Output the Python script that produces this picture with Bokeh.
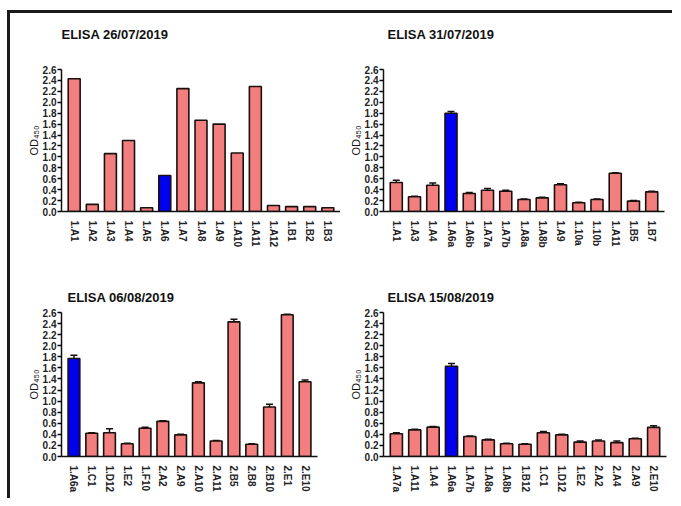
from bokeh.plotting import figure
from bokeh.layouts import column, row
from bokeh.models import (ColumnDataSource, FactorRange, Range1d, FixedTicker, Whisker,
                          TeeHead, PrintfTickFormatter, Title)
from bokeh.embed import file_html
from bokeh.resources import INLINE

titles = ["ELISA 26/07/2019", "ELISA 31/07/2019", "ELISA 06/08/2019", "ELISA 15/08/2019"]

cats1 = ["1.A1", "1.A2", "1.A3", "1.A4", "1.A5", "1.A6", "1.A7", "1.A8", "1.A9", "1.A10", "1.A11", "1.A12", "1.B1", "1.B2", "1.B3"]
vals1 = [2.43, 0.13, 1.06, 1.30, 0.07, 0.66, 2.25, 1.67, 1.60, 1.07, 2.29, 0.11, 0.09, 0.09, 0.07]
errs1 = [0.0] * 15

cats2 = ["1.A1", "1.A3", "1.A4", "1.A6a", "1.A6b", "1.A7a", "1.A7b", "1.A8a", "1.A8b", "1.A9", "1.10a", "1.10b", "1.A11", "1.B5", "1.B7"]
vals2 = [0.53, 0.27, 0.48, 1.80, 0.33, 0.39, 0.37, 0.22, 0.25, 0.49, 0.16, 0.22, 0.70, 0.19, 0.36]
errs2 = [0.04, 0.01, 0.04, 0.03, 0.02, 0.03, 0.02, 0.01, 0.01, 0.02, 0.01, 0.01, 0.01, 0.01, 0.01]

cats3 = ["1.A6a", "1.C1", "1.D12", "1.E2", "1.F10", "2.A2", "2.A9", "2.A10", "2.A11", "2.B5", "2.B8", "2.B10", "2.E1", "2.E10"]
vals3 = [1.77, 0.42, 0.43, 0.23, 0.51, 0.635, 0.39, 1.33, 0.28, 2.43, 0.22, 0.895, 2.56, 1.35]
errs3 = [0.06, 0.01, 0.07, 0.01, 0.02, 0.01, 0.01, 0.02, 0.01, 0.05, 0.01, 0.05, 0.01, 0.03]

cats4 = ["1.A7a", "1.A11", "1.A4", "1.A6a", "1.A7b", "1.A8a", "1.A8b", "1.B12", "1.C1", "1.D12", "1.E2", "2.A2", "2.A4", "2.A9", "2.E10"]
vals4 = [0.41, 0.48, 0.53, 1.63, 0.36, 0.30, 0.23, 0.22, 0.43, 0.39, 0.26, 0.28, 0.25, 0.32, 0.525]
errs4 = [0.02, 0.01, 0.01, 0.05, 0.01, 0.01, 0.01, 0.01, 0.02, 0.01, 0.02, 0.02, 0.03, 0.01, 0.03]

highlight = [["1.A6"], ["1.A6a"], ["1.A6a"], ["1.A6a"]]
yticks = [round(0.2 * i, 1) for i in range(14)]

PINK = "#F27E7E"
BLUE = "#0000F0"
FONT = "Liberation Sans"


def panel(title, cats, vals, errs, hl, w, h, bl, br, bt, bb, spacer, toff):
    p = figure(x_range=FactorRange(*cats, range_padding=0.2, range_padding_units="absolute"),
               y_range=Range1d(0, 2.6), width=w, height=h,
               output_backend="svg", toolbar_location=None,
               min_border_left=bl, min_border_right=br, min_border_top=bt, min_border_bottom=bb)
    colors = [BLUE if c in hl else PINK for c in cats]
    src = ColumnDataSource(dict(x=cats, top=vals, color=colors,
                                up=[v + e for v, e in zip(vals, errs)], lo=vals))
    p.vbar(x="x", top="top", width=0.66, source=src, fill_color="color",
           line_color="#1a1010", line_width=1.6)
    if any(e > 0 for e in errs):
        p.add_layout(Whisker(source=src, base="x", upper="up", lower="lo",
                             upper_head=TeeHead(size=7, line_color="#1a1010", line_width=1.5),
                             lower_head=None, line_color="#1a1010", line_width=1.5))
    p.title.text = ""
    # spacer title (closest to the frame), then the real title further out
    p.add_layout(Title(text=" ", text_font_size="2px", standoff=spacer), "above")
    p.add_layout(Title(text=title, text_font=FONT, text_font_size="13px",
                       text_font_style="bold", text_color="#111111",
                       standoff=0, offset=toff), "above")
    p.outline_line_color = None
    p.xgrid.visible = False
    p.ygrid.visible = False
    p.background_fill_color = None
    p.border_fill_color = None
    p.yaxis.ticker = FixedTicker(ticks=yticks)
    p.yaxis.formatter = PrintfTickFormatter(format="%.1f")
    p.yaxis.minor_tick_line_color = None
    p.yaxis.major_tick_out = 4
    p.yaxis.major_tick_in = 0
    p.yaxis.major_label_standoff = 1
    p.yaxis.axis_label = "OD₄₅₀"
    p.yaxis.axis_label_standoff = 0
    p.yaxis.axis_label_text_font = FONT
    p.yaxis.axis_label_text_font_size = "11px"
    p.yaxis.axis_label_text_font_style = "normal"
    p.yaxis.axis_label_text_color = "#111111"
    p.xaxis.major_tick_line_color = None
    p.xaxis.minor_tick_line_color = None
    p.xaxis.major_label_orientation = "vertical"
    p.xaxis.major_label_standoff = 3
    for ax in (p.xaxis, p.yaxis):
        ax.axis_line_width = 1.5
        ax.axis_line_color = "#111111"
        ax.major_tick_line_width = 1.5
        ax.major_label_text_font = FONT
        ax.major_label_text_font_size = "10px"
        ax.major_label_text_font_style = "bold"
        ax.major_label_text_color = "#222222"
    return p


p1 = panel(titles[0], cats1, vals1, errs1, highlight[0], 330, 237, 51, 0, 56, 35, 24, 0)
p2 = panel(titles[1], cats2, vals2, errs2, highlight[1], 332, 237, 43, 8, 56, 35, 24, 4)
p3 = panel(titles[2], cats3, vals3, errs3, highlight[2], 330, 248, 51, 23, 62, 42, 4, 6)
p4 = panel(titles[3], cats4, vals4, errs4, highlight[3], 332, 248, 43, 6, 62, 42, 4, 4)

layout = column(row(p1, p2), row(p3, p4), margin=(10, 0, 0, 7),
                styles={"border-top": "3px solid #1a1a1a", "border-left": "3px solid #1a1a1a"})

open("out.html", "w").write(file_html(layout, INLINE))
